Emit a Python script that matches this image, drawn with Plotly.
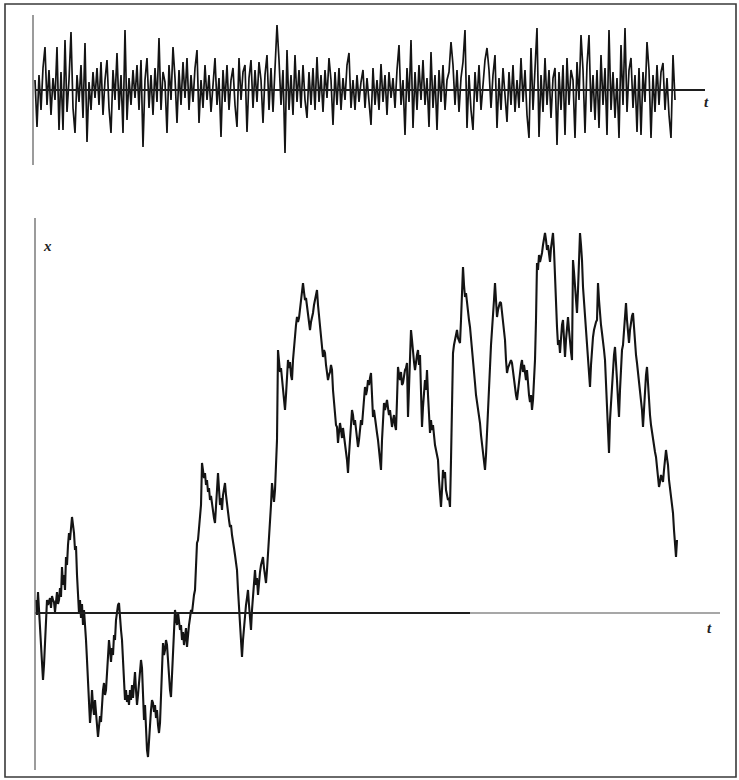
import plotly.graph_objects as go

# White-noise increments (top panel), one value per time step
noise = [
    10, -37, 15, -20, 22, 43, -15, 20, -25, 12, -10, 43, -40, 18, -40, 50, -22, 10, 58, -18,
    -43, 15, -12, 25, -28, 47, -52, 8, -20, 18, -8, 22, -15, 28, -25, 10, 30, -18, -43, 20,
    -10, 37, -20, 15, -43, 60, -30, 12, -15, 20, -8, 25, -20, 30, -57, 10, 32, -18, 15, -25,
    22, -12, 52, -20, 18, 8, -43, 25, -10, 43, 12, -33, 20, -15, 28, -8, 32, -20, 15, -12,
    22, 40, -33, 10, -18, 25, -10, 15, -22, 8, 32, -15, 12, -47, 20, -12, 25, -20, 10, 22,
    -15, -37, 32, -10, 18, 25, -42, 12, 30, -18, 20, -12, 28, 10, -33, 15, 35, -20, 22, -22,
    25, 65, 30, -15, 20, -63, 40, -20, 15, -25, 35, -12, 20, -18, 25, -10, -28, 18, -15, 22,
    -20, 33, -12, 15, -22, 20, -8, 32, 10, -35, 18, -15, 22, -20, 12, -10, 25, 37, -18, 10,
    -20, 15, -12, 8, 20, -18, 12, -10, -35, 22, -15, 10, -20, 26, -12, 15, -25, 18, -8, 12,
    -18, 20, 45, -15, 10, -45, 22, -12, 50, -38, 18, -20, 25, -10, 30, -15, 12, -37, 38, -18,
    15, -40, 20, -12, 25, -20, 10, 18, 48, 25, -15, 20, -22, 12, 28, 60, -38, 15, -20, -40,
    18, -12, 25, -20, 10, 30, 42, 20, -18, 15, 35, -38, 12, -20, 22, -10, -32, 18, -15, 25,
    -22, 10, -18, 32, -12, 20, -25, -48, 42, -20, 18, 62, -47, 15, -22, 32, -15, 20, -28, 12,
    22, -55, 18, -20, 25, -45, 32, -15, 20, 10, -48, 28, -10, 55, 20, -43, 25, 55, -22, 15,
    -30, 20, -38, 35, -15, 22, -45, 60, -20, 18, -28, 12, -48, 45, -15, 62, -22, 20, 32, -18,
    15, -42, 22, -45, 18, -12, 48, 20, -48, 15, -22, 25, -15, 18, 27, -20, 12, -25, -48, 35,
    -10,
]

# Random walk x(t) (bottom panel), one value per time step
walk = [
    13, -2, 21, 3, -7, -27, -47, -67, -52, -27, 3, 13, 8, 13, 15, 5, 17, 13, 11, 1,
    15, 21, 9, 13, 25, 16, 46, 28, 38, 23, 56, 48, 68, 80, 73, 86, 96, 88, 80, 63,
    67, 38, 23, 0, 13, -5, 9, -12, 3, -20, -27, -47, -67, -87, -110, -97, -77, -93, -102, -87,
    -105, -112, -124, -115, -103, -109, -87, -77, -70, -82, -77, -59, -47, -27, -37, -49, -35, -42, -22, -27,
    -7, 3, 8, 10, -7,
    -17, -27, -42, -67, -87, -77, -89, -82, -92, -77, -87, -72, -85, -67, -59, -77, -92, -82, -67, -59,
    -47, -55, -87, -107, -92, -122, -137, -144, -127, -107, -97, -87, -90, -99, -92, -105, -97, -112, -120, -110,
    -87, -57, -30, -42, -37, -27, -32, -47, -67, -77, -84, -62, -27, -12, 3, -5, -12, 1, -7, -17,
    -12, -27, -19, -32, -24, -15, -34, -19, -12, -5, 3, 0, 13, 18, 23, 43, 70, 73, 88, 96,
    108, 150, 143, 135, 140, 128, 133, 121, 125, 113, 117, 108, 101, 95, 90, 103, 123, 140, 123, 108,
    115, 103, 118, 125, 130, 118, 108, 101, 93, 86, 88, 78, 73, 65, 58, 51, 43, 23, 3, -17,
    -32, -44, -27, -12, 1, 8, 15, 23, 8, -2, -17, 3, 18, 33, 43, 28, 35, 18, 33, 41,
    48, 53, 56, 45, 38, 30, 43, 58, 73, 90, 108, 130, 118, 111, 123, 143, 173, 263, 253, 241,
    245, 235, 230, 218, 203, 218, 233, 253, 245, 251, 238, 233, 253, 268, 280, 288, 296, 291, 295, 305,
    313, 318, 330, 321, 313, 315, 306, 298, 293, 283, 291, 295, 300, 308, 313, 315, 323, 308, 298, 293,
    278, 266, 256, 263, 260, 248, 241, 233, 238, 241, 248, 243, 223, 213, 196, 188, 186, 170, 181, 190,
    183, 175, 185, 178, 173, 161, 153, 140, 158, 173, 188, 203, 198, 188, 193, 181, 173, 166, 173, 183,
    193, 188, 203, 218, 226, 218, 223, 233, 228, 235, 240, 218, 196, 203, 193, 185, 180, 173, 161, 151,
    143, 173, 198, 210, 203, 208, 213, 205, 198, 203, 193, 186, 193, 198, 188, 183, 213, 246, 238, 233,
    241, 228, 230, 238, 243, 245, 250, 196, 233, 263, 283, 273, 258, 251, 243, 253, 258, 263, 248, 258,
    223, 186, 206, 218, 233, 223, 243, 218, 193, 180, 193, 183, 188, 173, 168, 163, 158, 153, 133, 118,
    106, 123, 143, 135, 141, 123, 118, 113, 115, 106, 153, 213, 260, 268, 273, 278, 283, 275, 273, 270,
    293, 323, 346, 328, 316, 320, 308, 301, 293, 286, 273, 261, 248, 238, 230, 218, 211, 203, 198, 190,
    178, 168, 158, 151, 143, 158, 183, 210, 228, 253, 268, 283, 295, 313, 330, 313, 296, 303, 307, 311,
    310, 301, 288, 281, 273, 253, 240, 245, 248, 251, 253, 250, 241, 233, 223, 218, 213, 223, 233, 243,
    248, 253, 241, 248, 238, 233, 243, 228, 218, 211, 218, 203, 213, 233, 253, 293, 350, 343, 358, 351,
    355, 360, 368, 373, 380, 373, 363, 368, 355, 351, 365, 373, 380, 363, 333, 313, 286, 268, 273, 260,
    278, 288, 293, 273, 256, 273, 288, 296, 283, 268, 261, 253, 353, 341, 328, 313, 300, 323, 353, 380,
    368, 353, 326, 313, 293, 283, 273, 258, 243, 226, 248, 268, 276, 283, 288, 291, 293, 330, 313, 295,
    288, 280, 273, 263, 253, 233, 208, 183, 160, 193, 213, 233, 243, 258, 266, 253, 233, 213, 196, 223,
    248, 263, 268, 283, 293, 310, 293, 278, 270, 283, 293, 297, 300, 283, 268, 258, 250, 241, 233, 223,
    216, 203, 186, 203, 228, 238, 246, 228, 208, 198, 188, 180, 173, 165, 161, 156, 143, 133, 126, 131,
    138, 135, 131, 143, 153, 163, 155, 148, 133, 125, 118, 110, 100, 83, 68, 56, 73,
]

noise_t = list(range(len(noise)))
walk_t = list(range(len(walk)))

W, H = 739, 780
INK = "#141414"

fig = go.Figure()
fig.add_trace(go.Scatter(
    x=walk_t, y=walk, mode="lines", xaxis="x", yaxis="y",
    line=dict(color=INK, width=2.1), hoverinfo="skip", showlegend=False,
))
fig.add_trace(go.Scatter(
    x=noise_t, y=noise, mode="lines", xaxis="x2", yaxis="y2",
    line=dict(color=INK, width=1.7), hoverinfo="skip", showlegend=False,
))

shapes = [
    # outer frame
    dict(type="rect", xref="paper", yref="paper",
         x0=5 / W, x1=736 / W, y0=1 - 777 / H, y1=1 - 4 / H,
         line=dict(color="#3a3a3a", width=1.6)),
    # bottom panel axes
    dict(type="line", xref="x", yref="y", x0=-1, x1=434, y0=0, y1=0,
         line=dict(color="#1e1e1e", width=1.8)),
    dict(type="line", xref="x", yref="y", x0=434, x1=684, y0=0, y1=0,
         line=dict(color="#8a8a8a", width=1.5)),
    dict(type="line", xref="x", yref="y", x0=-1, x1=-1, y0=-157, y1=395,
         line=dict(color="#7a7a7a", width=1.5)),
    # top panel axes
    dict(type="line", xref="x2", yref="y2", x0=0, x1=335, y0=0, y1=0,
         line=dict(color="#1e1e1e", width=1.8)),
    dict(type="line", xref="x2", yref="y2", x0=-1, x1=-1, y0=-75, y1=75,
         line=dict(color="#7a7a7a", width=1.5)),
]

font = dict(family="Liberation Serif, DejaVu Serif, serif", size=15, color="#222222")
annotations = [
    dict(x=47 / W, y=1 - 246 / H, xref="paper", yref="paper", text="<b><i>x</i></b>",
         xanchor="center", yanchor="middle", showarrow=False, font=font),
    dict(x=706 / W, y=1 - 102 / H, xref="paper", yref="paper", text="<b><i>t</i></b>",
         xanchor="center", yanchor="middle", showarrow=False, font=font),
    dict(x=709 / W, y=1 - 628 / H, xref="paper", yref="paper", text="<b><i>t</i></b>",
         xanchor="center", yanchor="middle", showarrow=False, font=font),
]

hidden = dict(visible=False, showgrid=False, zeroline=False, fixedrange=True)
fig.update_layout(
    width=W, height=H,
    margin=dict(l=0, r=0, t=0, b=0),
    paper_bgcolor="white", plot_bgcolor="white",
    xaxis=dict(range=[-36, 703], domain=[0, 1], **hidden),
    yaxis=dict(range=[-167, 613], domain=[0, 1], **hidden),
    xaxis2=dict(range=[-17.5, 352], domain=[0, 1], overlaying="x", anchor="y2", **hidden),
    yaxis2=dict(range=[-690, 90], domain=[0, 1], overlaying="y", anchor="x2", **hidden),
    shapes=shapes,
    annotations=annotations,
    showlegend=False,
)

fig.write_html(
    "out.html",
    config={"displayModeBar": False, "staticPlot": True},
    post_script="document.body.style.margin='0';document.body.style.overflow='hidden';",
)
